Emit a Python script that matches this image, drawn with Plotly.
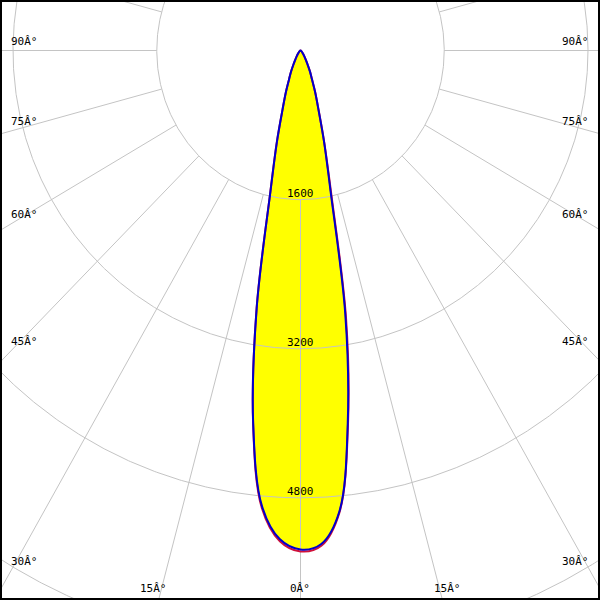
import numpy as np
import plotly.graph_objects as go

# ---------------- data ----------------
angles = [0, 2.5, 5, 7.5, 10, 12.5, 15, 17.5, 20, 22.5, 25, 27.5, 30,
          35, 40, 45, 50, 55, 60, 65, 70, 75, 80, 85, 90]
# blue curve: C0 half (right) and C180 half (left), cd
c0_int = [5354, 5300, 4965, 4030, 2870, 1545, 1010, 665, 478, 332, 250, 175, 125,
          70, 42, 26, 17, 11, 7, 5, 3, 2, 1, 0.5, 0]
c180_int = [5354, 5250, 4910, 4035, 2810, 1540, 1015, 665, 476, 330, 248, 172, 122,
            70, 42, 26, 17, 11, 7, 5, 3, 2, 1, 0.5, 0]
# red curve: C90 half (right) and C270 half (left), cd
c90_int = [5375, 5320, 4975, 4050, 2920, 1590, 1020, 670, 480, 334, 252, 176, 126,
           71, 42, 26, 17, 11, 7, 5, 3, 2, 1, 0.5, 0]
c270_int = [5375, 5270, 4930, 4040, 2815, 1545, 1015, 665, 476, 330, 248, 172, 122,
            70, 42, 26, 17, 11, 7, 5, 3, 2, 1, 0.5, 0]

circle_values = [1600, 3200, 4800, 6400]
circle_labels = ["1600", "3200", "4800"]
spoke_step = 15
side_label_angles = [90, 75, 60, 45, 30]
bottom_label_angles = [15, 0, 15]
bottom_label_side = [-1, 0, 1]

# ---------------- geometry / style ----------------
W = H = 600
POLE_X, POLE_Y = 300.5, 50.5          # pole position in pixels
CD_PER_PX = 10.73                      # vertical scale
SQUEEZE = 0.964                        # horizontal / vertical pixel scale
CDX = CD_PER_PX / SQUEEZE

x_range = [-POLE_X * CDX, (W - POLE_X) * CDX]
y_range = [-(H - POLE_Y) * CD_PER_PX, POLE_Y * CD_PER_PX]


def curve_xy(right, left):
    a = np.radians(np.array(angles, dtype=float))
    r = np.array(right, dtype=float)
    l = np.array(left, dtype=float)
    # left half from 90 deg down to 0, then right half from 0 up to 90
    xl = -(l * np.sin(a))[::-1]
    yl = -(l * np.cos(a))[::-1]
    xr = (r * np.sin(a))[1:]
    yr = -(r * np.cos(a))[1:]
    return np.concatenate([xl, xr]), np.concatenate([yl, yr])


bx, by = curve_xy(c0_int, c180_int)
rx, ry = curve_xy(c90_int, c270_int)

# grid
gx, gy = [], []
t = np.linspace(0, 2 * np.pi, 1441)
for v in circle_values:
    gx += list(v * np.sin(t)) + [None]
    gy += list(-v * np.cos(t)) + [None]
for a in range(0, 360, spoke_step):
    ar = np.radians(a)
    r0, r1 = circle_values[0], 20000
    gx += [r0 * np.sin(ar), r1 * np.sin(ar), None]
    gy += [-r0 * np.cos(ar), -r1 * np.cos(ar), None]

fig = go.Figure()
fig.add_trace(go.Scatter(x=bx, y=by, mode="lines", fill="toself",
                         fillcolor="#ffff00",
                         line=dict(width=0, color="rgba(0,0,0,0)", shape="spline"),
                         hoverinfo="skip"))
fig.add_trace(go.Scatter(x=gx, y=gy, mode="lines",
                         line=dict(width=1, color="#c4c4c4"), hoverinfo="skip"))
fig.add_trace(go.Scatter(x=rx, y=ry, mode="lines",
                         line=dict(width=2, color="#d0103a", shape="spline"),
                         hoverinfo="skip"))
fig.add_trace(go.Scatter(x=bx, y=by, mode="lines",
                         line=dict(width=2, color="#0000cc", shape="spline"),
                         hoverinfo="skip"))

font = dict(family="DejaVu Sans Mono", size=11, color="#000000")
ann = []


def px2paper(px, py):
    return px / W, 1 - py / H


for a in side_label_angles:
    if a == 90:
        py = POLE_Y - 9
    else:
        py = POLE_Y + ((POLE_X - 11) / SQUEEZE) / np.tan(np.radians(a)) - 9
    xl, yl = px2paper(9, py)
    xr, _ = px2paper(591, py)
    ann.append(dict(x=xl, y=yl, xref="paper", yref="paper", text=f"{a}Â°",
                    showarrow=False, xanchor="left", yanchor="middle", font=font))
    ann.append(dict(x=xr, y=yl, xref="paper", yref="paper", text=f"{a}Â°",
                    showarrow=False, xanchor="right", yanchor="middle", font=font))

for a, s in zip(bottom_label_angles, bottom_label_side):
    cross = (H - 12 - POLE_Y) * SQUEEZE * np.tan(np.radians(a))
    px = POLE_X + s * (cross + 8) if s != 0 else POLE_X - 0.5
    xx, yy = px2paper(px, 588)
    ann.append(dict(x=xx, y=yy, xref="paper", yref="paper", text=f"{a}Â°",
                    showarrow=False, xanchor="center", yanchor="middle", font=font))

for v, lab in zip(circle_values, circle_labels):
    py = POLE_Y + v / CD_PER_PX - 6
    xx, yy = px2paper(POLE_X - 0.5, py)
    ann.append(dict(x=xx, y=yy, xref="paper", yref="paper", text=lab,
                    showarrow=False, xanchor="center", yanchor="middle", font=font))

fig.update_layout(
    width=W, height=H,
    margin=dict(l=0, r=0, t=0, b=0),
    paper_bgcolor="#ffffff", plot_bgcolor="#ffffff",
    showlegend=False,
    xaxis=dict(range=x_range, visible=False, fixedrange=True),
    yaxis=dict(range=y_range, visible=False, fixedrange=True),
    annotations=ann,
    shapes=[dict(type="rect", xref="paper", yref="paper", x0=0, y0=0, x1=1, y1=1,
                 line=dict(color="#000000", width=4), layer="above")],
    hovermode=False,
)

fig.write_html("out.html", config={"displayModeBar": False},
               post_script=["document.body.style.margin='0';"
                            "document.body.style.overflow='hidden';"])
